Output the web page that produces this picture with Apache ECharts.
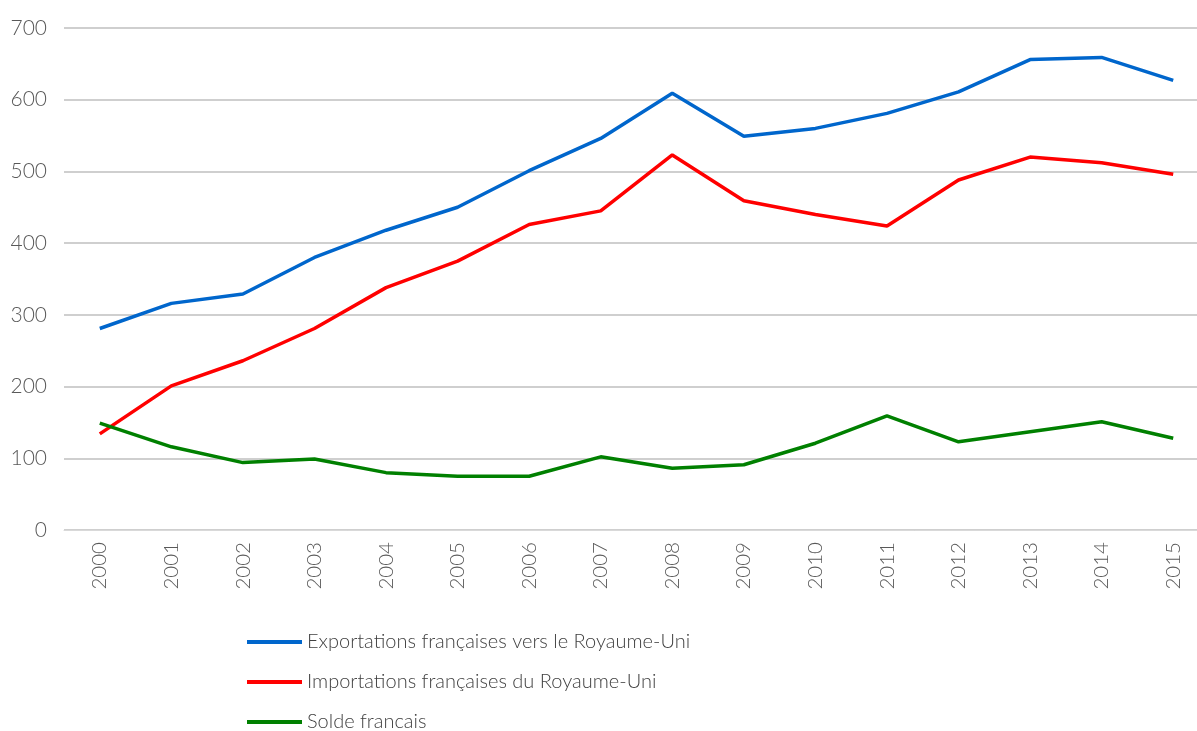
<!DOCTYPE html>
<html>
<head>
<meta charset="utf-8">
<script src="https://cdn.jsdelivr.net/npm/echarts@6/dist/echarts.min.js"></script>
<style>
  html, body { margin: 0; padding: 0; background: #fff; }
  #chart { width: 1197px; height: 731px; }
</style>
</head>
<body>
<div id="chart"></div>
<script>
var years = ['2000','2001','2002','2003','2004','2005','2006','2007','2008','2009','2010','2011','2012','2013','2014','2015']
var exportations = [281, 316, 329, 380, 418, 450, 501, 546, 609, 549, 560, 581, 611, 656, 659, 627]
var importations = [134, 201, 236, 281, 338, 375, 426, 445, 523, 459, 440, 424, 488, 520, 512, 496]
var solde = [149, 116, 94, 99, 80, 75, 75, 102, 86, 91, 121, 159, 123, 137, 151, 128]

var font = 'Lato'
var chart = echarts.init(document.getElementById('chart'))

function line (name, color, data) {
  return {
    name: name,
    type: 'line',
    data: data,
    symbol: 'none',
    lineStyle: { color: color, width: 3.5 },
    itemStyle: { color: color }
  }
}

var option = {
  animation: false,
  textStyle: { fontFamily: font },
  grid: { left: 64, top: 28, width: 1145, height: 502, outerBoundsMode: 'none', containLabel: false },
  xAxis: {
    type: 'category',
    data: years,
    boundaryGap: true,
    axisLine: { show: true, lineStyle: { color: '#d9d9d9', width: 1 } },
    axisTick: { show: false },
    axisLabel: { rotate: 90, margin: 12, fontSize: 20.5, color: '#595959', fontFamily: font, fontWeight: 300 }
  },
  yAxis: {
    type: 'value',
    min: 0,
    max: 700,
    interval: 100,
    axisLine: { show: false },
    axisTick: { show: false },
    splitLine: { lineStyle: { color: '#bfbfbf', width: 1.5 } },
    axisLabel: { margin: 17, fontSize: 21, color: '#595959', fontFamily: font, fontWeight: 300 }
  },
  legend: {
    orient: 'vertical',
    left: 242,
    top: 627,
    height: 120,
    itemWidth: 55,
    itemHeight: 4,
    itemGap: 20,
    icon: 'rect',
    textStyle: { fontSize: 20, color: '#404040', fontFamily: font, fontWeight: 300 },
    data: ['Exportations françaises vers le Royaume-Uni', 'Importations françaises du Royaume-Uni', 'Solde francais']
  },
  series: [
    line('Exportations françaises vers le Royaume-Uni', '#0066cc', exportations),
    line('Importations françaises du Royaume-Uni', '#ff0000', importations),
    line('Solde francais', '#008000', solde)
  ]
}

chart.setOption(option)
</script>
</body>
</html>
